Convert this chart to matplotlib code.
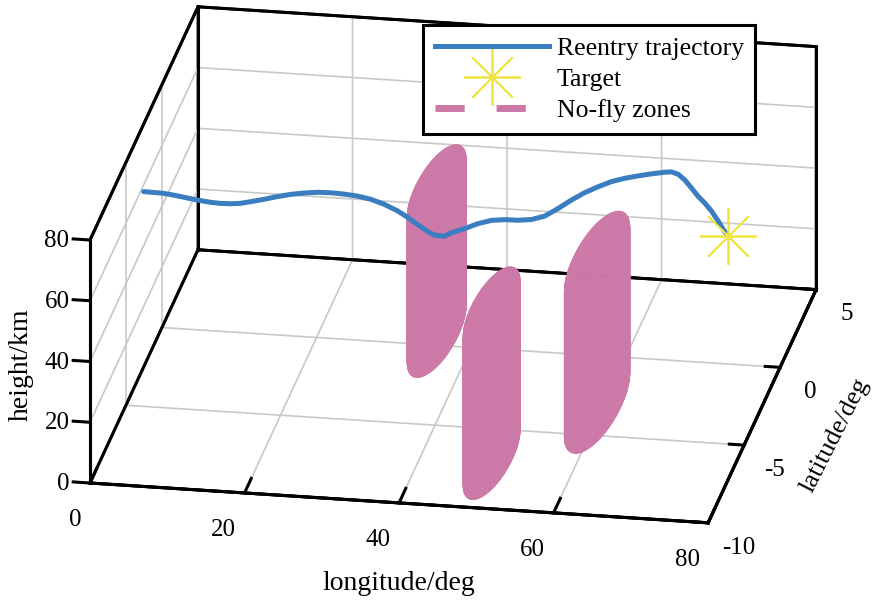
import numpy as np
import matplotlib
matplotlib.use('Agg')
import matplotlib.pyplot as plt
from matplotlib.lines import Line2D
from mpl_toolkits.mplot3d import proj3d

# ---------------- data ----------------
traj_lon = [0.00, 1.24, 2.58, 3.93, 5.28, 7.07, 8.85, 10.19, 11.59, 12.93, 14.28, 16.11,
            17.94, 19.72, 21.50, 23.29, 25.06, 26.84, 28.63, 30.41, 32.18, 33.93, 35.23,
            36.53, 37.78, 38.59, 39.75, 40.57, 42.11, 43.67, 45.21, 46.61, 48.07, 49.42,
            50.63, 51.80, 52.96, 54.22, 55.49, 56.94, 58.38, 59.84, 61.38, 62.88, 63.70,
            64.52, 65.33, 66.16, 66.98, 67.79, 68.62, 69.46, 70.07, 70.69]
traj_lat = [-2.55, -2.60, -2.65, -2.70, -2.75, -2.80, -2.85, -2.90, -3.00, -3.05, -3.10, -3.20,
            -3.30, -3.35, -3.40, -3.45, -3.50, -3.55, -3.60, -3.65, -3.70, -3.70, -3.70,
            -3.70, -3.65, -3.60, -3.45, -3.40, -3.20, -3.00, -2.80, -2.45, -2.15, -1.75,
            -1.20, -0.60, 0.00, 0.50, 1.00, 1.30, 1.60, 1.90, 2.10, 2.35, 2.40,
            2.45, 2.50, 2.55, 2.60, 2.65, 2.70, 2.73, 2.77, 2.80]
traj_h = [57.8, 58.0, 58.2, 58.1, 57.9, 57.5, 57.3, 57.4, 58.0, 58.6, 59.6, 61.2,
          62.9, 64.2, 65.2, 66.0, 66.4, 66.5, 66.4, 65.9, 64.8, 62.9, 61.0,
          58.8, 56.5, 55.2, 54.2, 55.2, 55.8, 56.7, 57.0, 55.7, 54.2, 52.6,
          51.1, 50.7, 50.6, 50.7, 50.3, 50.7, 50.5, 50.0, 49.9, 49.4, 49.4,
          48.5, 46.5, 43.7, 40.8, 38.5, 35.7, 32.4, 29.5, 27.3]

target_lon, target_lat, target_h = 70.69, 2.8, 27.3

zone_lon = [34.9, 49.0, 59.2]
zone_lat = [0.7, -6.8, -3.1]
zone_r = [2.8, 2.7, 3.1]
zone_top = [48.0, 49.0, 48.0]

lon_ticks = [0, 20, 40, 60, 80]
lat_ticks = [-10, -5, 0, 5]
h_ticks = [0, 20, 40, 60, 80]
legend_labels = ['Reentry trajectory', 'Target', 'No-fly zones']
x_title, y_title, z_title = 'longitude/deg', 'latitude/deg', 'height/km'

BLUE = '#3A7DC1'
YELLOW = '#F0E442'
PINK = '#CC79A7'

plt.rcParams.update({
    'font.family': ['Liberation Serif', 'DejaVu Serif'],
    'font.size': 18,
    'axes.unicode_minus': False,
    'grid.color': '#C8C8C8',
    'grid.linewidth': 1.2,
    'xtick.major.width': 2.2,
    'ytick.major.width': 2.2,
    'xtick.color': 'black',
    'ytick.color': 'black',
})

W, H = 879, 601
AXW, AXH = 1.4, 2.0      # large axes box so that nothing gets clipped
fig = plt.figure(figsize=(W / 100, H / 100), dpi=100)
ax = fig.add_axes([0, 0, AXW, AXH], projection='3d', computed_zorder=False)
ax.set_proj_type('ortho')
ax.view_init(elev=21.9, azim=-80.2)
ax.set_xlim(0, 80)
ax.set_ylim(-10, 5)
ax.set_zlim(0, 80)

# box frame (back edges), drawn from the axis limits
x0, x1 = ax.get_xlim()
y0, y1 = ax.get_ylim()
z0, z1 = ax.get_zlim()
frame_edges = [((x0, x1), (y1, y1), (z0, z0)), ((x0, x0), (y0, y1), (z0, z0)),
               ((x0, x1), (y0, y0), (z0, z0)), ((x1, x1), (y0, y1), (z0, z0)),
               ((x0, x0), (y0, y0), (z0, z1)), ((x0, x0), (y1, y1), (z0, z1)),
               ((x1, x1), (y1, y1), (z0, z1)), ((x0, x0), (y0, y1), (z1, z1)),
               ((x0, x1), (y1, y1), (z1, z1))]
for ex, ey, ez in frame_edges:
    ax.plot(ex, ey, ez, color='black', lw=2.2, zorder=1,
            solid_capstyle='projecting')

# no-fly zone cylinders
theta = np.linspace(0, 2 * np.pi, 121)
for i, (cx, cy, r, top) in enumerate(zip(zone_lon, zone_lat, zone_r, zone_top)):
    T, Z = np.meshgrid(theta, np.array([0.0, top]))
    X = cx + r * np.cos(T)
    Y = cy + r * np.sin(T)
    ax.plot_surface(X, Y, Z, color=PINK, shade=False, linewidth=0.6,
                    edgecolor=PINK, antialiased=True, rcount=2, ccount=121,
                    zorder=2 + i)

ax.plot(traj_lon, traj_lat, traj_h, color=BLUE, lw=3.6, zorder=10,
        solid_capstyle='round', solid_joinstyle='round')
ax.plot([target_lon], [target_lat], [target_h], ls='none', marker=(8, 2, 0),
        ms=41, mew=1.3, color=YELLOW, zorder=11)

ax.set_xlim(0, 80)
ax.set_ylim(-10, 5)
ax.set_zlim(0, 80)
ax.set_xticks(lon_ticks)
ax.set_yticks(lat_ticks)
ax.set_zticks(h_ticks)

for axis in (ax.xaxis, ax.yaxis, ax.zaxis):
    axis.set_pane_color((1, 1, 1, 1))
    axis.pane.set_edgecolor('black')
    axis.pane.set_linewidth(2)
    axis.line.set_color('black')
    axis.line.set_linewidth(2.2)
    axis._axinfo['tick']['inward_factor'] = 0.0
ax.xaxis._axinfo['tick']['outward_factor'] = 0.78
ax.yaxis._axinfo['tick']['outward_factor'] = 0.3
ax.zaxis._axinfo['tick']['outward_factor'] = 0.34

# z axis on the front-left edge, ticks pointing left, labels moved left only
ax.zaxis.set_ticks_position('lower')
ax.zaxis._get_tickdir = lambda position=None: 0
ax.zaxis._axmask = lambda: [True, False, False]
# pads scaled for the doubled axes box (label offsets scale with 1/axes size)
ax.xaxis.set_tick_params(pad=27)
ax.yaxis.set_tick_params(pad=14)
ax.zaxis.set_tick_params(pad=7)
for t in ax.get_xticklabels():
    t.set_ha('right')
    t.set_va('center')
for t in ax.get_zticklabels():
    t.set_ha('right')
    t.set_va('center_baseline')

# axis titles
fig.text(399 / W, 1 - 583 / H, x_title, ha='center', va='center', fontsize=20)
fig.text(21 / W, 1 - 365 / H, z_title, ha='center', va='center', fontsize=20,
         rotation=90)
fig.text(835 / W, 1 - 435 / H, y_title, ha='center', va='center', fontsize=19,
         rotation=63, rotation_mode='anchor')

handles = [Line2D([], [], color=BLUE, lw=3.6),
           Line2D([], [], ls='none', marker=(8, 2, 0), ms=41, mew=1.3, color=YELLOW),
           Line2D([], [], color=PINK, lw=5, linestyle=(0, (4.2, 4.6)))]
leg = ax.legend(handles, legend_labels, loc='upper left',
                bbox_to_anchor=(423 / W, 1 - 25 / H), bbox_transform=fig.transFigure,
                borderaxespad=0, frameon=True, fancybox=False, edgecolor='black',
                framealpha=1, handlelength=4.44, handletextpad=0.31,
                labelspacing=0.32, borderpad=0.45, fontsize=18.5)
leg.get_frame().set_linewidth(2.2)


# ---- layout calibration: place the box corners like the reference ----
def px(x, y, z):
    xs, ys, _ = proj3d.proj_transform(x, y, z, ax.get_proj())
    dx, dy = ax.transData.transform((xs, ys))
    return np.array([dx, H - dy])


aspect = np.array([1.0, 1.0, 0.416])
zoom = 1.0
off = np.array([0.0, 0.0])
for _ in range(8):
    ax.set_box_aspect(aspect, zoom=zoom)
    ax.set_position([off[0] / W, off[1] / H, AXW, AXH])
    fig.canvas.draw()
    A = px(0, -10, 0)
    D = px(80, -10, 0)
    B = px(80, 5, 0)
    C = px(0, -10, 80)
    lonlen = np.linalg.norm(D - A)
    latlen = np.linalg.norm(B - D)
    zlen = np.linalg.norm(C - A)
    aspect[1] *= (257.0 / 619.4) / (latlen / lonlen)
    aspect[2] *= (243.0 / 619.4) / (zlen / lonlen)
    zoom *= 619.4 / lonlen
    off[0] += 90 - A[0]
    off[1] -= 483 - A[1]
ax.set_box_aspect(aspect, zoom=zoom)
ax.set_position([off[0] / W, off[1] / H, AXW, AXH])

fig.savefig('out.png', dpi=100, facecolor='white')
